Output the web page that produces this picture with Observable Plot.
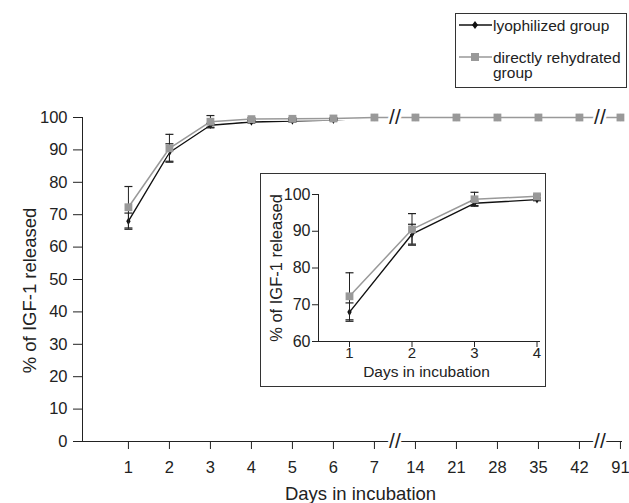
<!DOCTYPE html>
<html>
<head>
<meta charset="utf-8">
<script src="https://cdn.jsdelivr.net/npm/d3@7"></script>
<script src="https://cdn.jsdelivr.net/npm/@observablehq/plot@0.6"></script>
<style>
  body { margin: 0; background: #fff; }
  #wrap { position: relative; width: 629px; height: 503px; font-family: "Liberation Sans", Arial, sans-serif; color: #222; }
  #inset { position: absolute; left: 260px; top: 173px; width: 286px; height: 214px; box-sizing: border-box; border: 1px solid #333; background: #fff; }
  #legend { position: absolute; left: 455px; top: 13px; width: 172px; height: 75px; box-sizing: border-box; border: 1px solid #333; background: #fff; font-size: 15.5px; line-height: 15px; }
  .row { position: absolute; left: 0; display: flex; align-items: flex-start; }
  .row svg { flex: none; }
</style>
</head>
<body>
<div id="wrap">
  <div id="main"></div>
  <div id="inset"></div>
  <div id="legend"></div>
</div>
<script>
// ---- data ----
const days = [1, 2, 3, 4, 5, 6, 7, 14, 21, 28, 35, 42, 91];
const lyoMean = [68.0, 89.2, 97.6, 98.6, 98.9, 99.2, 100, 100, 100, 100, 100, 100, 100];
const lyoErr  = [2.5, 2.7, 0.6, 0.3, 0.3, 0.2, 0, 0, 0, 0, 0, 0, 0];
const rehMean = [72.3, 90.5, 98.7, 99.5, 99.6, 99.7, 100, 100, 100, 100, 100, 100, 100];
const rehErr  = [6.4, 4.3, 1.9, 0.4, 0.3, 0.2, 0, 0, 0, 0, 0, 0, 0];
const breakAfterDays = [7, 42];
const insetDays = [1, 2, 3, 4];
const seriesNames = ["lyophilized group", "directly rehydrated group"];

// ---- styling ----
const BLACK = "#111";
const GRAY = "#999";
const ERR = "#222";
const font = "'Liberation Sans', Arial, sans-serif";

const rows = days.map((d, i) => ({i, day: d, lyo: lyoMean[i], lyoE: lyoErr[i], reh: rehMean[i], rehE: rehErr[i]}));
const errRows = [];
for (const r of rows) {
  if (r.lyoE > 0) errRows.push({i: r.i, day: r.day, lo: r.lyo - r.lyoE, hi: r.lyo + r.lyoE});
  if (r.rehE > 0) errRows.push({i: r.i, day: r.day, lo: r.reh - r.rehE, hi: r.reh + r.rehE});
}
const capSymbol = {draw(ctx) { ctx.moveTo(-4, 0); ctx.lineTo(4, 0); }};

const xDom = [-1.12, 12.05];
const breaks = [];
for (const d of breakAfterDays) {
  const p = days.indexOf(d) + 0.5;
  breaks.push({pos: p, y: 0}, {pos: p, y: 100});
}

function seriesMarks(data, xKey) {
  return [
    Plot.line(data, {x: xKey, y: "lyo", stroke: BLACK, strokeWidth: 1.4}),
    Plot.dot(data, {x: xKey, y: "lyo", symbol: "diamond", r: 2.3, fill: BLACK}),
    Plot.line(data, {x: xKey, y: "reh", stroke: "#fff", strokeWidth: 4}),
    Plot.line(data, {x: xKey, y: "reh", stroke: GRAY, strokeWidth: 1.5}),
  ];
}
function errMarks(data, xKey) {
  return [
    Plot.ruleX(data, {x: xKey, y1: "lo", y2: "hi", stroke: ERR, strokeWidth: 1}),
    Plot.dot(data, {x: xKey, y: "lo", symbol: capSymbol, r: 4, stroke: ERR, fill: "none", strokeWidth: 1.2}),
    Plot.dot(data, {x: xKey, y: "hi", symbol: capSymbol, r: 4, stroke: ERR, fill: "none", strokeWidth: 1.2}),
  ];
}

const main = Plot.plot({
  width: 629, height: 503,
  marginLeft: 82, marginRight: 7, marginTop: 117, marginBottom: 62,
  style: {fontFamily: font, fontSize: "16px", color: "#222", background: "#fff"},
  x: {type: "linear", domain: xDom},
  y: {domain: [0, 100]},
  marks: [
    Plot.axisX(d3.range(days.length), {tickFormat: i => days[i], tickSize: 8, tickPadding: 12, label: null, fontSize: 16.5}),
    Plot.axisY(d3.range(0, 101, 10), {tickSize: 9, tickPadding: 6, label: null, fontSize: 16.5}),
    Plot.ruleY([0], {stroke: "#222"}),
    Plot.ruleX([xDom[0]], {y1: 0, y2: 100, stroke: "#222"}),
    ...seriesMarks(rows, "i"),
    ...errMarks(errRows, "i"),
    Plot.dot(rows, {x: "i", y: "reh", symbol: "square", r: 4.4, fill: GRAY}),
    Plot.text(breaks, {x: "pos", y: "y", text: () => "//", fontSize: 21, fill: "#222", stroke: "#fff", strokeWidth: 5}),
    Plot.text(["Days in incubation"], {frameAnchor: "bottom", dx: 8, dy: 53, lineAnchor: "middle", fontSize: 18.5, fill: "#222"}),
    Plot.text(["% of IGF-1 released"], {frameAnchor: "left", dx: -52, dy: 11, rotate: -90, lineAnchor: "middle", textAnchor: "middle", fontSize: 18.5, fill: "#222"})
  ]
});
document.getElementById("main").appendChild(main);

const insetRows = rows.filter(r => insetDays.includes(r.day));
const insetErr = errRows.filter(r => insetDays.includes(r.day));
const ixDom = [0.504, 4.056];
const inset = Plot.plot({
  width: 284, height: 212,
  marginLeft: 57, marginRight: 5, marginTop: 20, marginBottom: 45,
  style: {fontFamily: font, fontSize: "15px", color: "#222", background: "#fff"},
  x: {type: "linear", domain: ixDom},
  y: {domain: [60, 100]},
  marks: [
    Plot.axisX(insetDays, {tickSize: 6, tickPadding: 0, label: null, fontSize: 15}),
    Plot.axisY(d3.range(60, 101, 10), {tickSize: 6, tickPadding: 2, label: null, fontSize: 16}),
    Plot.ruleY([60], {stroke: "#222"}),
    Plot.ruleX([ixDom[0]], {y1: 60, y2: 100, stroke: "#222"}),
    ...seriesMarks(insetRows, "day"),
    ...errMarks(insetErr, "day"),
    Plot.dot(insetRows, {x: "day", y: "reh", symbol: "square", r: 4.4, fill: GRAY}),
    Plot.text(["Days in incubation"], {frameAnchor: "bottom", dx: -3, dy: 31, lineAnchor: "middle", fontSize: 15.5, fill: "#222"}),
    Plot.text(["% of IGF-1 released"], {frameAnchor: "left", dx: -42, dy: 0, rotate: -90, lineAnchor: "middle", textAnchor: "middle", fontSize: 16.5, fill: "#222"})
  ]
});
document.getElementById("inset").appendChild(inset);

// ---- legend ----
const legend = document.getElementById("legend");
function swatch(kind) {
  const ns = "http://www.w3.org/2000/svg";
  const s = document.createElementNS(ns, "svg");
  s.setAttribute("width", 36); s.setAttribute("height", 14);
  const l = document.createElementNS(ns, "line");
  l.setAttribute("x1", 3); l.setAttribute("x2", 36); l.setAttribute("y1", 7); l.setAttribute("y2", 7);
  l.setAttribute("stroke", kind === 0 ? BLACK : GRAY); l.setAttribute("stroke-width", 1.5);
  s.appendChild(l);
  if (kind === 0) {
    const p = document.createElementNS(ns, "path");
    p.setAttribute("d", "M19,3L22,7L19,11L16,7Z"); p.setAttribute("fill", BLACK);
    s.appendChild(p);
  } else {
    const r = document.createElementNS(ns, "rect");
    r.setAttribute("x", 15); r.setAttribute("y", 3); r.setAttribute("width", 8); r.setAttribute("height", 8); r.setAttribute("fill", GRAY);
    s.appendChild(r);
  }
  return s;
}
seriesNames.forEach((name, k) => {
  const row = document.createElement("div");
  row.className = "row";
  row.style.top = (k === 0 ? 4 : 36) + "px";
  row.appendChild(swatch(k));
  const t = document.createElement("div");
  t.style.width = "128px";
  t.style.marginLeft = "1px";
  t.textContent = name;
  row.appendChild(t);
  legend.appendChild(row);
});
</script>
</body>
</html>
